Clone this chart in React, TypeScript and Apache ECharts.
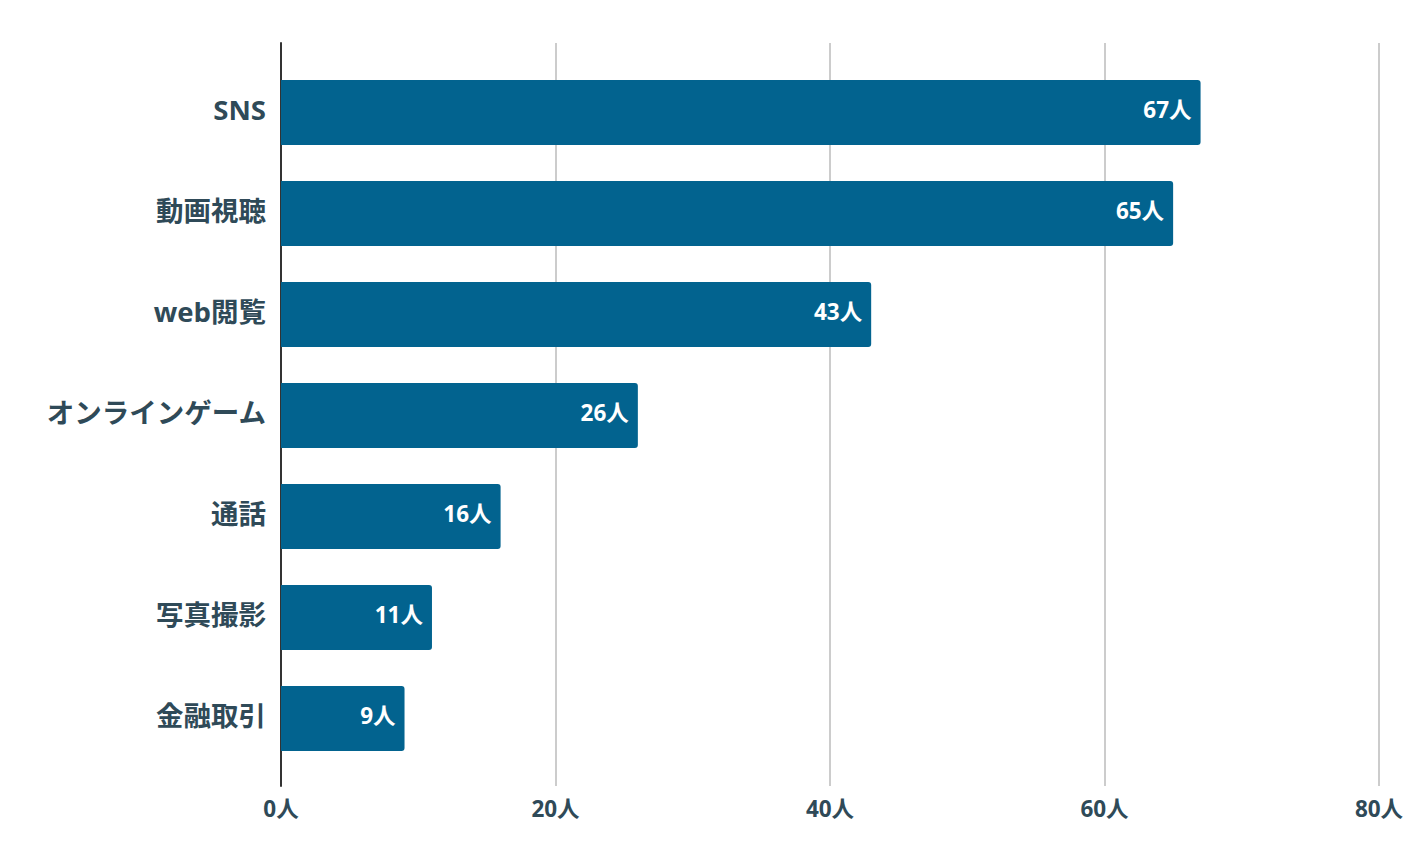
import React, { useEffect, useRef } from "react";
import * as echarts from "echarts";

const categories = ["SNS", "動画視聴", "web閲覧", "オンラインゲーム", "通話", "写真撮影", "金融取引"];
const values = [67, 65, 43, 26, 16, 11, 9];
const xMin = 0;
const xMax = 80;
const xInterval = 20;

const FONT = "'Open Sans', 'Noto Sans CJK JP', 'Noto Sans', sans-serif";
const TEXT = "#2f4a58";
const BAR = "#02638f";

export default function App() {
  const ref = useRef<HTMLDivElement>(null);
  useEffect(() => {
    if (!ref.current) return;
    const chart = echarts.init(ref.current, undefined, { renderer: "svg" });
    chart.setOption({
      animation: false,
      backgroundColor: "#ffffff",
      textStyle: { fontFamily: FONT },
      grid: [
        { left: 281, right: 43, top: 62, bottom: 97 },
        { left: 281, right: 43, top: 43, bottom: 80 },
      ],
      xAxis: [
        {
          gridIndex: 0,
          type: "value",
          min: xMin,
          max: xMax,
          interval: xInterval,
          show: false,
        },
        {
          gridIndex: 1,
          type: "value",
          min: xMin,
          max: xMax,
          interval: xInterval,
          axisLine: { show: false },
          axisTick: { show: false },
          splitLine: { show: true, lineStyle: { color: "#cccccc", width: 2 } },
          axisLabel: {
            margin: 11,
            color: TEXT,
            fontFamily: FONT,
            fontWeight: "bold",
            fontSize: 22.5,
            formatter: (v: number) => `${v}人`,
          },
        },
      ],
      yAxis: [
        {
          gridIndex: 0,
          type: "category",
          data: categories,
          inverse: true,
          axisLine: { show: false },
          axisTick: { show: false },
          splitLine: { show: false },
          axisLabel: {
            margin: 15,
            formatter: (v: string) => `{c|${v}}`,
            rich: {
              c: {
                color: TEXT,
                fontFamily: FONT,
                fontWeight: "bold",
                fontSize: 27.5,
                padding: [0, 0, 6, 0],
              },
            },
          },
        },
        {
          gridIndex: 1,
          type: "value",
          min: 0,
          max: 1,
          axisLine: { show: true, onZero: false, lineStyle: { color: "#333333", width: 2 } },
          axisTick: { show: false },
          axisLabel: { show: false },
          splitLine: { show: false },
        },
      ],
      series: [
        {
          type: "bar",
          xAxisIndex: 0,
          yAxisIndex: 0,
          data: values,
          barWidth: 65,
          itemStyle: { color: BAR, borderRadius: [0, 3, 3, 0] },
          label: {
            show: true,
            position: "insideRight",
            distance: 9,
            formatter: (p: any) => `{v|${p.value}人}`,
            rich: {
              v: {
                color: "#ffffff",
                fontFamily: FONT,
                fontWeight: "bold",
                fontSize: 22.5,
                padding: [0, 0, 6, 0],
              },
            },
          },
        },
      ],
    });
    return () => chart.dispose();
  }, []);
  return (
    <div
      ref={ref}
      style={{ position: "fixed", left: 0, top: 0, width: 1422, height: 866, background: "#fff" }}
    />
  );
}
